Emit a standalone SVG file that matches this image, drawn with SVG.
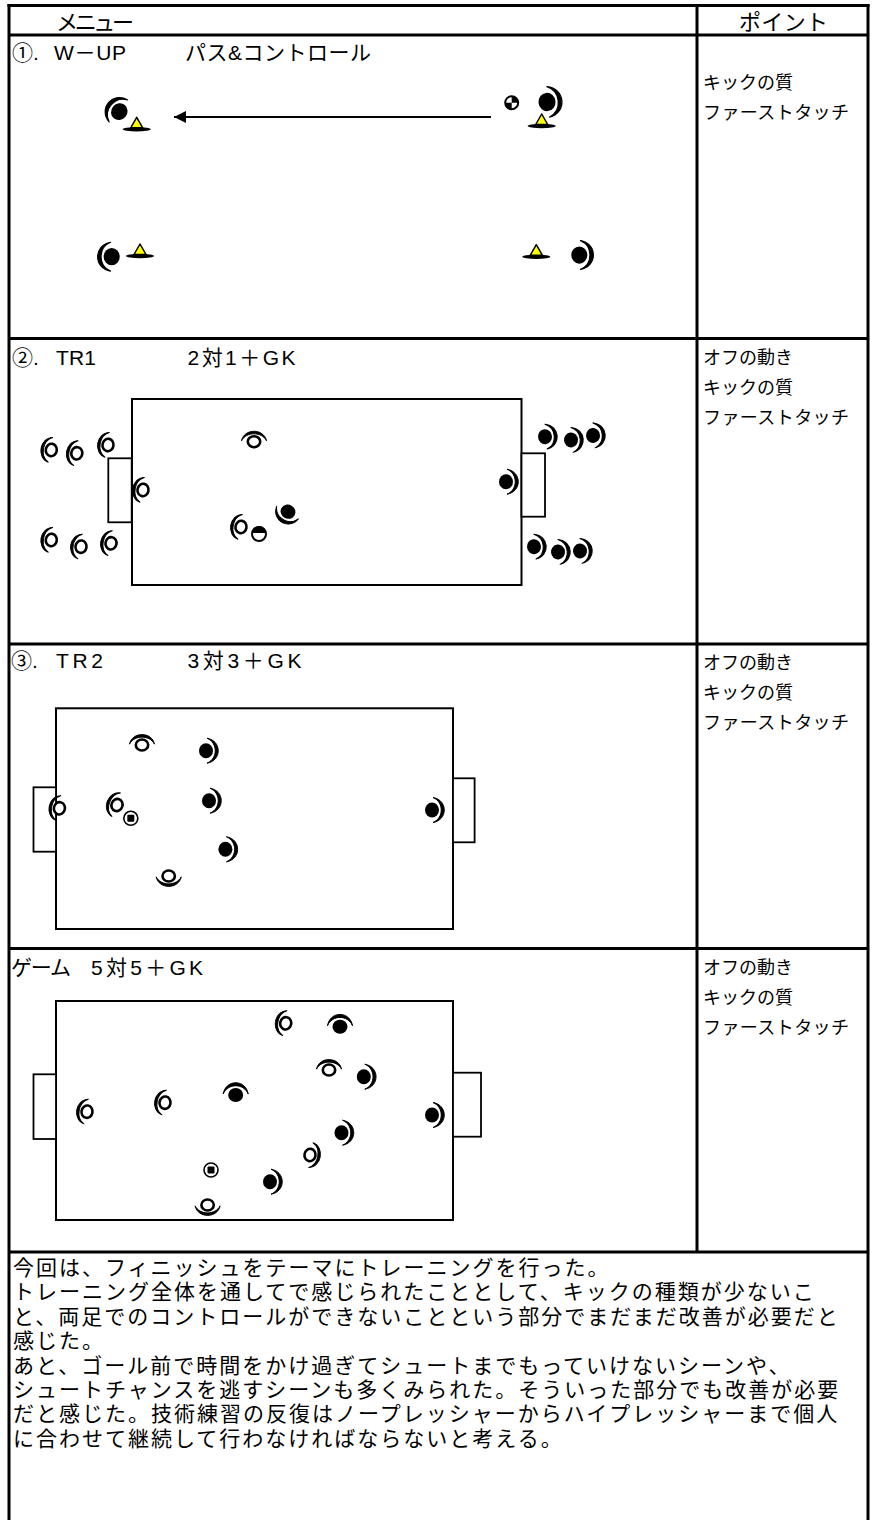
<svg xmlns="http://www.w3.org/2000/svg" width="878" height="1520" viewBox="0 0 878 1520">
<style>
.t{font-family:"Noto Sans CJK JP","Noto Sans",sans-serif;fill:#000}
.hd{font-size:22px}
.lbl{font-family:"Liberation Sans","Noto Sans CJK JP",sans-serif;font-size:21px}
.pt{font-size:18px}
.bt{font-size:21px;letter-spacing:2px}
.grid{stroke:#000;stroke-width:3;fill:none}
.field{fill:#fff;stroke:#000;stroke-width:2}
.goal{fill:#fff;stroke:#000;stroke-width:1.8}
.cr{fill:#000;stroke:#000;stroke-width:1;stroke-linejoin:round}
.conn{stroke:#000;stroke-width:2;fill:none}
</style>
<defs>
<marker id="ah" viewBox="0 0 12 12" refX="12" refY="6" markerWidth="12" markerHeight="12" markerUnits="userSpaceOnUse" orient="auto">
<path d="M0 0 L12 6 L0 12 Z" fill="#000"/>
</marker>
<path id="crescent" class="cr" d="M-1 -12.5 C-16 -10 -16 10 -1 12.5 C-12 8 -12 -8 -1 -12.5 Z"/>
<g id="pb"><ellipse rx="7" ry="7.5" fill="#000"/><use href="#crescent"/></g>
<g id="pw"><ellipse rx="5.5" ry="6.2" fill="#fff" stroke="#000" stroke-width="2.6"/><use href="#crescent" transform="scale(0.85 1)"/></g>
<g id="cone"><ellipse rx="14" ry="2.2" fill="#000"/><path d="M0 -12 L-6 -1.5 L6 -1.5 Z" fill="#ffff00" stroke="#000" stroke-width="1.5" stroke-linejoin="round"/></g>
<g id="ballq"><circle r="6.5" fill="#fff" stroke="#000" stroke-width="2"/><path d="M0 0 L0 -6.5 A6.5 6.5 0 0 1 6.5 0 Z M0 0 L0 6.5 A6.5 6.5 0 0 1 -6.5 0 Z" fill="#000"/></g>
<g id="balls"><circle r="7" fill="#fff" stroke="#000" stroke-width="1.6"/><rect x="-3.5" y="-3.5" width="7" height="7" rx="1" fill="#000"/></g>
<g id="ballh"><circle r="7" fill="#fff" stroke="#000" stroke-width="2"/><path d="M-7 -1 A7 7 0 0 1 7 -1 Z" fill="#000"/></g>
</defs>
<rect width="878" height="1520" fill="#fff"/>

<g id="table">
<line class="grid" x1="9" y1="4" x2="9" y2="1522"/>
<line class="grid" x1="868" y1="4" x2="868" y2="1522"/>
<line class="grid" x1="7.5" y1="5.5" x2="869.5" y2="5.5"/>
<line class="grid" x1="9" y1="35" x2="868" y2="35"/>
<line class="grid" x1="9" y1="338.5" x2="868" y2="338.5"/>
<line class="grid" x1="9" y1="644" x2="868" y2="644"/>
<line class="grid" x1="9" y1="948.5" x2="868" y2="948.5"/>
<line class="grid" x1="9" y1="1252" x2="868" y2="1252"/>
<line class="grid" x1="697" y1="5.5" x2="697" y2="1252"/>
</g>

<g id="header">
<text class="t hd" x="56" y="30" textLength="78">メニュー</text>
<text class="t hd" x="739" y="30" textLength="89">ポイント</text>
</g>

<g id="row-labels">
<text class="lbl" x="12" y="60">①.</text>
<text class="lbl" x="54" y="60" textLength="72">W－UP</text>
<text class="lbl" x="185" y="60" textLength="186">パス&amp;コントロール</text>
<text class="lbl" x="12" y="365">②.</text>
<text class="lbl" x="56" y="365" textLength="40">TR1</text>
<text class="lbl" x="187.5" y="365" textLength="108">2対1＋GK</text>
<text class="lbl" x="11" y="668">③.</text>
<text class="lbl" x="56" y="668" textLength="47">TR2</text>
<text class="lbl" x="187.5" y="668" textLength="114">3対3＋GK</text>
<text class="lbl" x="11" y="975" textLength="60">ゲーム</text>
<text class="lbl" x="91" y="975" textLength="112">5対5＋GK</text>
</g>

<g id="points">
<text class="t pt" x="703" y="89">キックの質</text>
<text class="t pt" x="703" y="119" textLength="146">ファーストタッチ</text>
<text class="t pt" x="703" y="364">オフの動き</text>
<text class="t pt" x="703" y="394">キックの質</text>
<text class="t pt" x="703" y="424" textLength="146">ファーストタッチ</text>
<text class="t pt" x="703" y="669">オフの動き</text>
<text class="t pt" x="703" y="699">キックの質</text>
<text class="t pt" x="703" y="729" textLength="146">ファーストタッチ</text>
<text class="t pt" x="703" y="974">オフの動き</text>
<text class="t pt" x="703" y="1004">キックの質</text>
<text class="t pt" x="703" y="1034" textLength="146">ファーストタッチ</text>
</g>

<g id="summary">
<text class="t bt" x="13" y="1275"><tspan x="13" y="1275">今回は、フィニッシュをテーマにトレーニングを行った。</tspan><tspan x="13" y="1299.4">トレーニング全体を通してで感じられたこととして、キックの種類が少ないこ</tspan><tspan x="13" y="1323.8">と、両足でのコントロールができないことという部分でまだまだ改善が必要だと</tspan><tspan x="13" y="1348.2">感じた。</tspan><tspan x="13" y="1372.6">あと、ゴール前で時間をかけ過ぎてシュートまでもっていけないシーンや、</tspan><tspan x="13" y="1397">シュートチャンスを逃すシーンも多くみられた。そういった部分でも改善が必要</tspan><tspan x="13" y="1421.4">だと感じた。技術練習の反復はノープレッシャーからハイプレッシャーまで個人</tspan><tspan x="13" y="1445.8">に合わせて継続して行わなければならないと考える。</tspan></text>
</g>

<!-- Row 1: W-UP -->
<g id="wup">
<g id="wup-p1"><use href="#pb" transform="translate(119.3 111.7) rotate(40) scale(1.15)"/></g>
<g id="wup-p2"><use href="#pb" transform="translate(547 102) rotate(175) scale(1.22)"/></g>
<g id="wup-p3"><use href="#pb" transform="translate(111.7 256.7) scale(1.15)"/></g>
<g id="wup-p4"><use href="#pb" transform="translate(579.3 255) rotate(180) scale(1.15)"/></g>
<g id="wup-c1"><use href="#cone" transform="translate(136.7 129.3)"/></g>
<g id="wup-c2"><use href="#cone" transform="translate(541.7 126)"/></g>
<g id="wup-c3"><use href="#cone" transform="translate(140 256)"/></g>
<g id="wup-c4"><use href="#cone" transform="translate(536.3 256.7)"/></g>
<g id="wup-ball"><use href="#ballq" transform="translate(511.7 102.7)"/></g>
</g>

<!-- Row 2: TR1 -->
<g id="tr1">
<g id="tr1-field"><rect class="field" x="132" y="399" width="389.5" height="186"/></g>
<g id="tr1-goal-l"><rect class="goal" x="108.3" y="458.3" width="23.4" height="64"/></g>
<g id="tr1-goal-r"><rect class="goal" x="521.5" y="453.3" width="23.5" height="63.4"/></g>
<g id="tr1-w1"><use href="#pw" transform="translate(51.3 450) rotate(10)"/></g>
<g id="tr1-w2"><use href="#pw" transform="translate(76.8 453.3) rotate(10)"/></g>
<g id="tr1-w3"><use href="#pw" transform="translate(108 445) rotate(10)"/></g>
<g id="tr1-w4"><use href="#pw" transform="translate(51.3 540) rotate(10)"/></g>
<g id="tr1-w5"><use href="#pw" transform="translate(81 546.7) rotate(10)"/></g>
<g id="tr1-w6"><use href="#pw" transform="translate(111 543.3) rotate(10)"/></g>
<g id="tr1-wgk"><use href="#pw" transform="translate(143 490) rotate(10)"/></g>
<g id="tr1-w7"><use href="#pw" transform="translate(254 441.7) rotate(90)"/></g>
<g id="tr1-w8"><use href="#pw" transform="translate(241 527) rotate(10)"/></g>
<g id="tr1-ball"><use href="#ballh" transform="translate(259 534)"/></g>
<g id="tr1-b1"><use href="#pb" transform="translate(288 511.7) rotate(-60)"/></g>
<g id="tr1-bgk"><use href="#pb" transform="translate(506 481.7) rotate(180)"/></g>
<g id="tr1-b2"><use href="#pb" transform="translate(545 436.7) rotate(175)"/></g>
<g id="tr1-b3"><use href="#pb" transform="translate(571 440) rotate(175)"/></g>
<g id="tr1-b4"><use href="#pb" transform="translate(593 435.5) rotate(175)"/></g>
<g id="tr1-b5"><use href="#pb" transform="translate(534 546.7) rotate(175)"/></g>
<g id="tr1-b6"><use href="#pb" transform="translate(558 552) rotate(175)"/></g>
<g id="tr1-b7"><use href="#pb" transform="translate(580 551) rotate(175)"/></g>
</g>

<!-- Row 3: TR2 -->
<g id="tr2">
<g id="tr2-field"><rect class="field" x="56" y="708.3" width="397" height="220.7"/></g>
<g id="tr2-goal-l"><rect class="goal" x="33.5" y="787.3" width="22.5" height="64.4"/></g>
<g id="tr2-goal-r"><rect class="goal" x="453" y="778.3" width="21.6" height="64"/></g>
<g id="tr2-w1"><use href="#pw" transform="translate(142 745) rotate(90)"/></g>
<g id="tr2-wgk"><use href="#pw" transform="translate(59.4 808.3) rotate(10)"/></g>
<g id="tr2-w2"><use href="#pw" transform="translate(117 805) rotate(20)"/></g>
<g id="tr2-w3"><use href="#pw" transform="translate(168.7 876) rotate(-90)"/></g>
<g id="tr2-ball"><use href="#balls" transform="translate(130.8 818.3)"/></g>
<g id="tr2-b1"><use href="#pb" transform="translate(206 750.7) rotate(180)"/></g>
<g id="tr2-b2"><use href="#pb" transform="translate(209 800.7) rotate(180)"/></g>
<g id="tr2-b3"><use href="#pb" transform="translate(225.4 849.3) rotate(180)"/></g>
<g id="tr2-bgk"><use href="#pb" transform="translate(432 810) rotate(180)"/></g>
</g>

<!-- Row 4: Game -->
<g id="game">
<g id="game-field"><rect class="field" x="56" y="1001" width="397" height="219"/></g>
<g id="game-goal-l"><rect class="goal" x="33.5" y="1074.3" width="22.5" height="64.7"/></g>
<g id="game-goal-r"><rect class="goal" x="453" y="1072.7" width="28" height="64"/></g>
<g id="game-w1"><use href="#pw" transform="translate(285.7 1023.3) rotate(10)"/></g>
<g id="game-w2"><use href="#pw" transform="translate(329 1070) rotate(90)"/></g>
<g id="game-w3"><use href="#pw" transform="translate(87 1111.7) rotate(10)"/></g>
<g id="game-w4"><use href="#pw" transform="translate(165 1102.7) rotate(10)"/></g>
<g id="game-w5"><use href="#pw" transform="translate(310 1155) rotate(190)"/></g>
<g id="game-w6"><use href="#pw" transform="translate(207.6 1205) rotate(-90)"/></g>
<g id="game-b1"><use href="#pb" transform="translate(340 1026.7) rotate(90)"/></g>
<g id="game-b2"><use href="#pb" transform="translate(363.8 1076.7) rotate(180)"/></g>
<g id="game-b3"><use href="#pb" transform="translate(235.7 1095) rotate(90)"/></g>
<g id="game-bgk"><use href="#pb" transform="translate(432 1115) rotate(180)"/></g>
<g id="game-b4"><use href="#pb" transform="translate(341.5 1132.7) rotate(180)"/></g>
<g id="game-b5"><use href="#pb" transform="translate(270 1181.7) rotate(180)"/></g>
<g id="game-ball"><use href="#balls" transform="translate(211 1170)"/></g>
</g>

<g id="connectors">
<line class="conn" x1="491" y1="117" x2="174" y2="117" marker-end="url(#ah)"/>
</g>
</svg>
